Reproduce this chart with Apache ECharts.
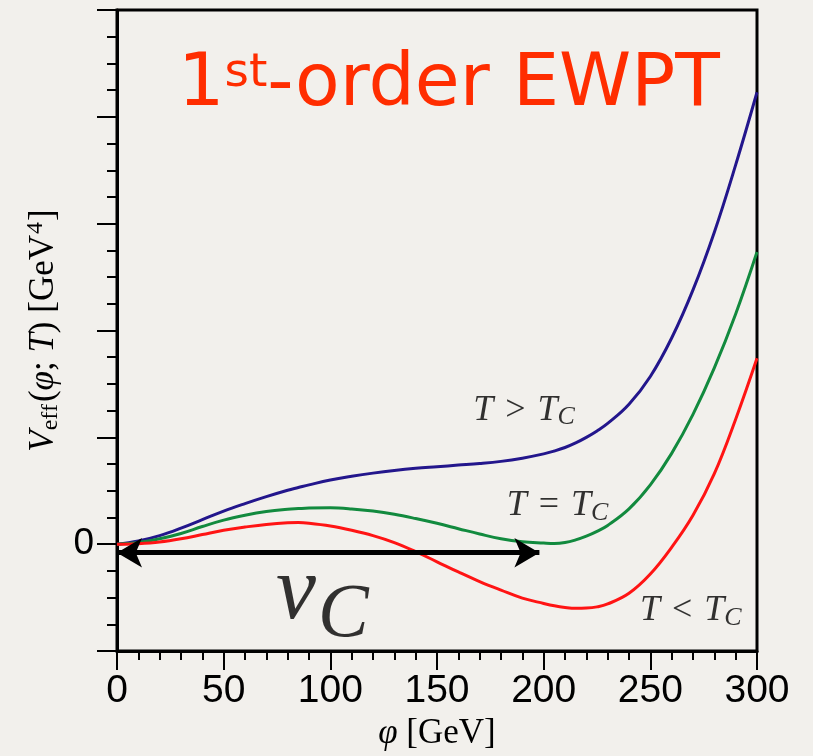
<!DOCTYPE html>
<html>
<head>
<meta charset="utf-8">
<script src="https://cdn.jsdelivr.net/npm/echarts@6/dist/echarts.min.js"></script>
<style>
  html, body { margin: 0; padding: 0; background: #f2f0ec; }
  #chart { width: 813px; height: 756px; }
</style>
</head>
<body>
<div id="chart"></div>
<script>
// ---- data ----
const phi = [0, 10, 20, 30, 40, 50, 60, 70, 80, 85, 90, 100, 110, 120, 130, 140, 150,
             160, 170, 180, 190, 200, 205, 210, 215, 220, 225, 230, 240, 250, 260, 270, 280, 290, 300];
// T > Tc (blue)
const vAbove = [0, 0.03, 0.08, 0.15, 0.23, 0.31, 0.38, 0.445, 0.505, 0.53, 0.555, 0.60, 0.635, 0.665, 0.69, 0.71, 0.725,
                0.74, 0.755, 0.775, 0.805, 0.845, 0.872, 0.905, 0.948, 1.00, 1.06, 1.13, 1.31, 1.57, 1.93, 2.38, 2.92, 3.55, 4.23];
// T = Tc (green)
const vCrit = [0, 0.015, 0.05, 0.10, 0.165, 0.225, 0.27, 0.305, 0.327, 0.333, 0.338, 0.34, 0.33, 0.31, 0.28, 0.24, 0.195,
               0.145, 0.095, 0.05, 0.022, 0.01, 0.006, 0.015, 0.04, 0.075, 0.12, 0.175, 0.33, 0.555, 0.85, 1.215, 1.65, 2.155, 2.735];
// T < Tc (red)
const vBelow = [0, 0.005, 0.02, 0.05, 0.09, 0.13, 0.16, 0.185, 0.20, 0.202, 0.196, 0.17, 0.13, 0.08, 0.015, -0.07, -0.165,
                -0.26, -0.35, -0.43, -0.505, -0.555, -0.577, -0.592, -0.60, -0.598, -0.587, -0.56, -0.46, -0.28, -0.03, 0.27, 0.66, 1.17, 1.74];

// axis ranges and tick labels
const xMin = 0, xMax = 300, xStep = 50;
const yMin = -1, yMax = 5, yStep = 1;
const yLabelValues = [0];

// v_C double arrow (data units, arrow tips)
const arrowStart = 0, arrowEnd = 198, arrowY = -0.08;

// annotations: [phi, V, key]
const annotations = [
  [190.8, 1.255, 'gt'],
  [206.5, 0.365, 'eq'],
  [269, -0.618, 'lt'],
  [96.3, -0.47, 'vc']
];
const annotationText = {
  gt: '{t|T}{o|>}{t|T}{c|C}',
  eq: '{t|T}{o|=}{t|T}{c|C}',
  lt: '{t|T}{o|<}{t|T}{c|C}',
  vc: '{v|v}{C|C}'
};

const serif = '"Liberation Serif", "DejaVu Serif", serif';
const sans = '"DejaVu Sans", sans-serif';
const tickFont = '"Liberation Sans", Arial, sans-serif';

const annRich = {
  t: { fontFamily: serif, fontStyle: 'italic', fontSize: 36, color: '#000' },
  o: { fontFamily: serif, fontSize: 36, color: '#000', padding: [0, 12, 0, 12] },
  c: { fontFamily: serif, fontStyle: 'italic', fontSize: 26, color: '#000', padding: [15, 0, 0, 0] },
  v: { fontFamily: serif, fontStyle: 'italic', fontSize: 90, color: '#000' },
  C: { fontFamily: serif, fontStyle: 'italic', fontSize: 76, color: '#000', padding: [43, 0, 0, 2] }
};

function pairs(ys) { return phi.map((x, i) => [x, ys[i]]); }

const chart = echarts.init(document.getElementById('chart'), null, { renderer: 'canvas' });

const option = {
  animation: false,
  backgroundColor: '#f2f0ec',
  title: {
    text: '{n|1}{s|st}{n|-order EWPT}',
    left: 178,
    top: 50,
    padding: 0,
    textStyle: {
      fontWeight: 'normal',
      rich: {
        n: { fontFamily: sans, fontSize: 73, fontWeight: 'normal', color: '#ff2d00', lineHeight: 73 },
        s: { fontFamily: sans, fontSize: 47, fontWeight: 'normal', color: '#ff2d00', verticalAlign: 'top', lineHeight: 47 }
      }
    }
  },
  grid: {
    left: 117, right: 56, top: 10, bottom: 105,
    show: true, borderColor: '#000', borderWidth: 3, backgroundColor: 'transparent'
  },
  xAxis: {
    type: 'value',
    min: xMin, max: xMax, interval: xStep,
    axisLine: { show: true, onZero: false, lineStyle: { color: '#000', width: 3 } },
    axisTick: { show: true, inside: false, length: 19, lineStyle: { color: '#000', width: 2 } },
    minorTick: { show: true, splitNumber: 5, length: 9, lineStyle: { color: '#000', width: 2 } },
    splitLine: { show: false },
    axisLabel: { fontFamily: tickFont, fontSize: 39, color: '#000', margin: 21 },
    name: '{p|φ}{r| [GeV]}',
    nameLocation: 'middle',
    nameGap: 64,
    nameTextStyle: {
      rich: {
        p: { fontFamily: serif, fontStyle: 'italic', fontSize: 35, color: '#000' },
        r: { fontFamily: serif, fontSize: 35, color: '#000' }
      }
    }
  },
  yAxis: {
    type: 'value',
    min: yMin, max: yMax, interval: yStep,
    axisLine: { show: true, onZero: false, lineStyle: { color: '#000', width: 3 } },
    axisTick: { show: true, inside: false, length: 20, lineStyle: { color: '#000', width: 2 } },
    minorTick: { show: true, splitNumber: 4, length: 10, lineStyle: { color: '#000', width: 2 } },
    splitLine: { show: false },
    axisLabel: {
      fontFamily: tickFont, fontSize: 37, color: '#000', margin: 23,
      formatter: v => yLabelValues.includes(v) ? String(v) : ''
    },
    name: '{i|V}{s|eff}{r|(}{i|φ}{r|; }{i|T}{r|) [GeV}{u|4}{r|]}',
    nameLocation: 'middle',
    nameRotate: 90,
    nameGap: 51,
    nameTextStyle: {
      rich: {
        i: { fontFamily: serif, fontStyle: 'italic', fontSize: 35, color: '#000' },
        r: { fontFamily: serif, fontSize: 35, color: '#000' },
        s: { fontFamily: serif, fontSize: 24, color: '#000', padding: [13, 2, 0, 0] },
        u: { fontFamily: serif, fontSize: 24, color: '#000', padding: [0, 1, 17, 1] }
      }
    }
  },
  series: [
    {
      name: 'T > Tc', type: 'line', data: pairs(vAbove), smooth: 0.4,
      showSymbol: false, lineStyle: { color: '#23168c', width: 3 }, z: 3
    },
    {
      name: 'T = Tc', type: 'line', data: pairs(vCrit), smooth: 0.4,
      showSymbol: false, lineStyle: { color: '#128a3e', width: 3 }, z: 3
    },
    {
      name: 'T < Tc', type: 'line', data: pairs(vBelow), smooth: 0.4,
      showSymbol: false, lineStyle: { color: '#ff1414', width: 3 }, z: 3
    },
    {
      name: 'vC arrow', type: 'line', data: [], clip: false, z: 4,
      markLine: {
        silent: true,
        symbol: ['arrow', 'arrow'],
        symbolSize: [22, 25],
        label: { show: false },
        lineStyle: { color: '#000', width: 5, type: 'solid' },
        data: [[{ coord: [arrowStart, arrowY] }, { coord: [arrowEnd, arrowY] }]]
      }
    },
    {
      name: 'labels', type: 'scatter', symbolSize: 0, silent: true, clip: false, z: 5,
      data: annotations.map(a => ({ value: [a[0], a[1]], key: a[2] })),
      label: {
        show: true, position: 'inside', align: 'center', verticalAlign: 'middle', color: '#000',
        formatter: p => annotationText[p.data.key],
        rich: annRich
      }
    }
  ]
};

chart.setOption(option);
</script>
</body>
</html>
